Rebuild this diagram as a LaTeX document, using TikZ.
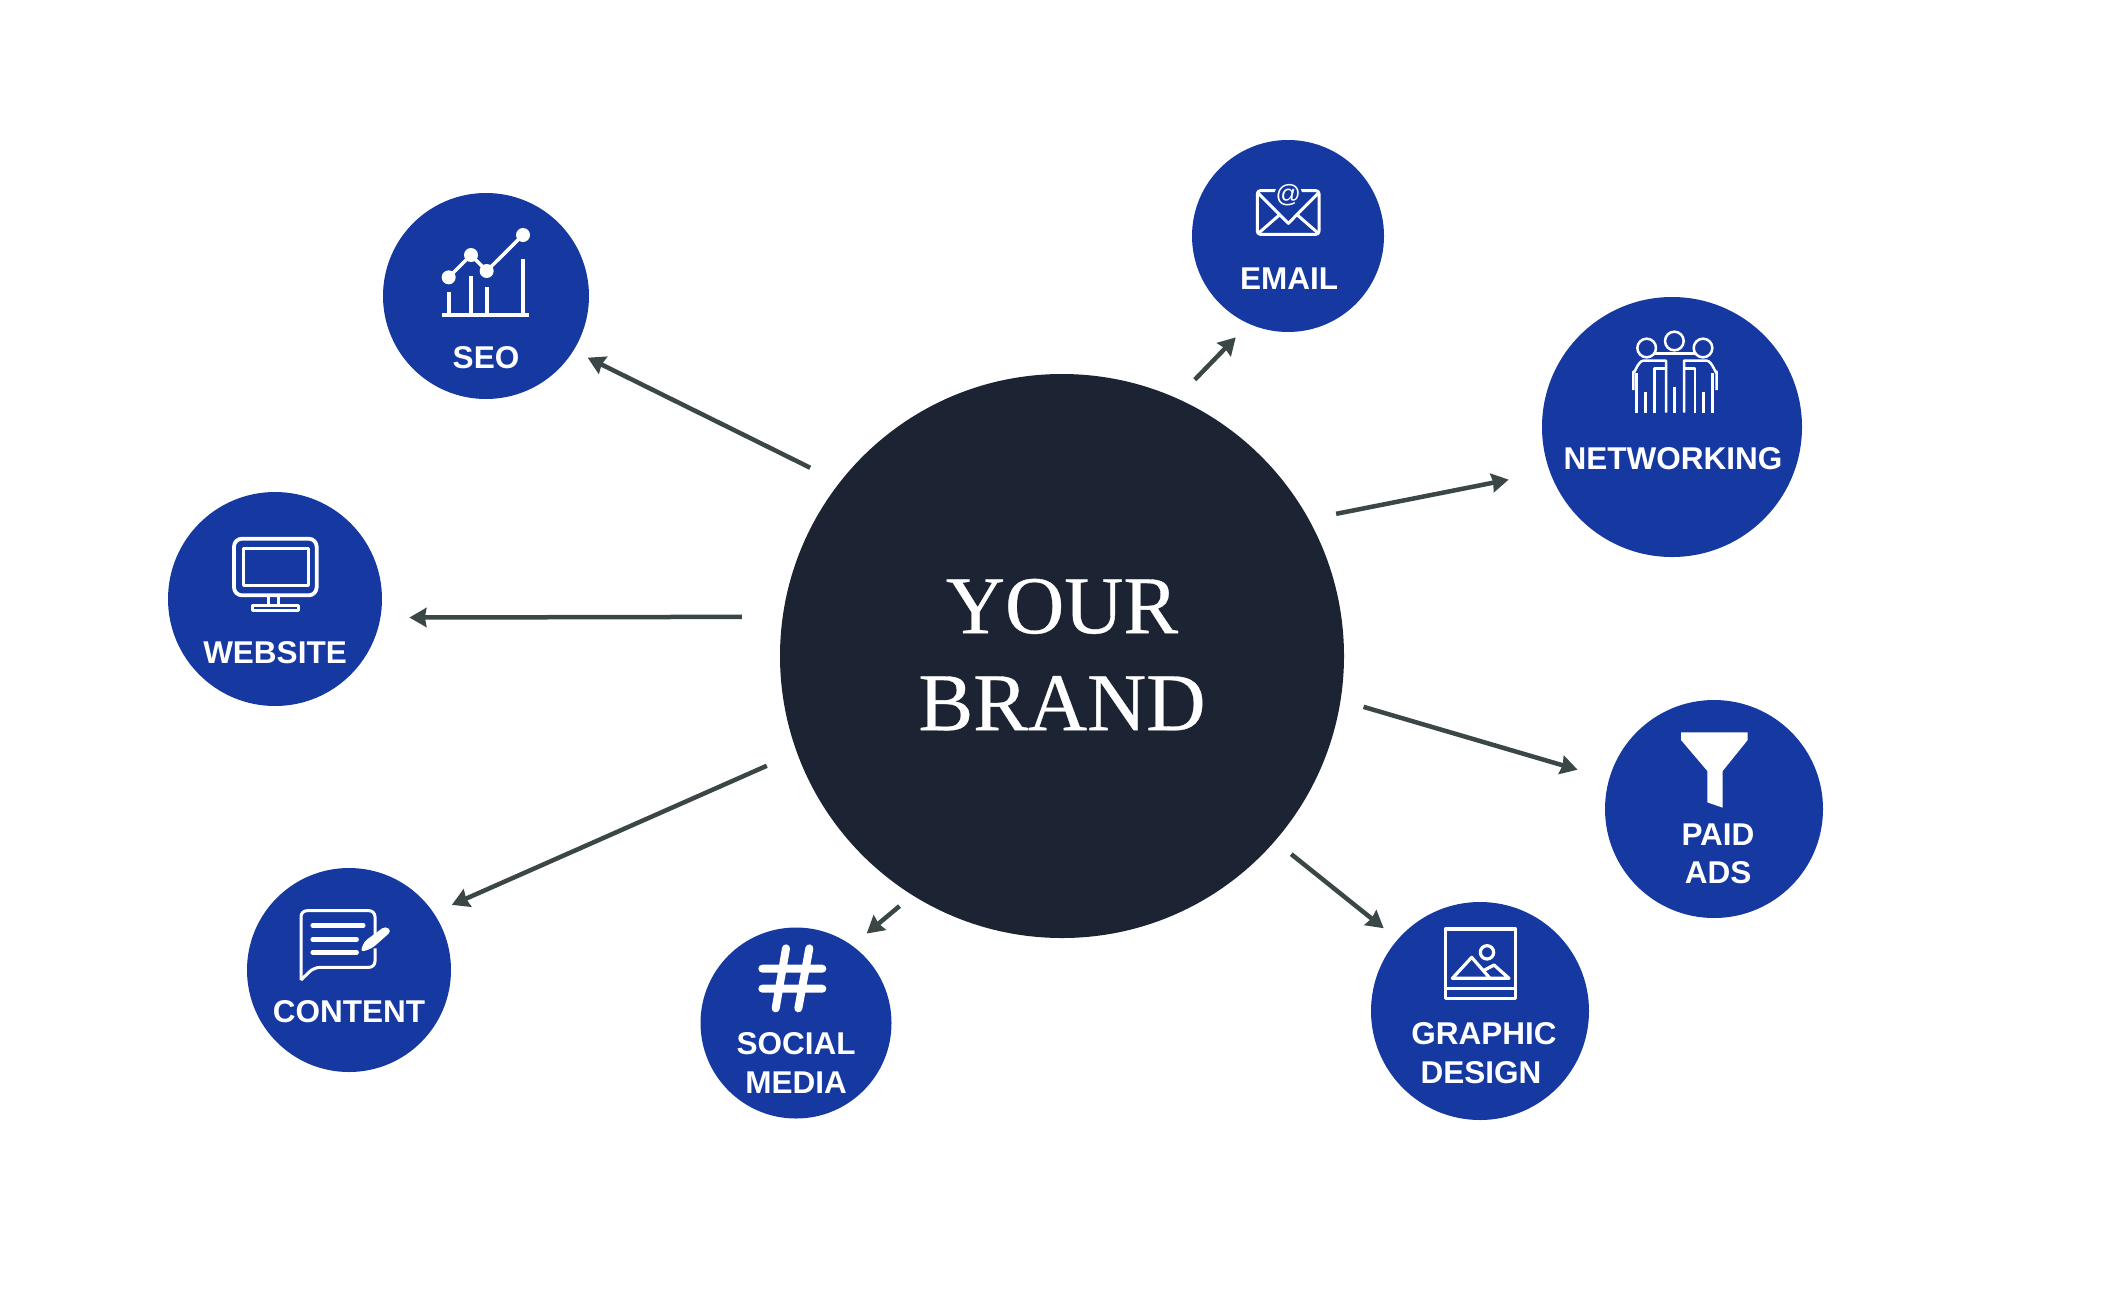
\documentclass[tikz,border=0pt]{standalone}
\usepackage{fontspec}
\setmainfont{Liberation Serif}[FakeBold=0.4]
\newfontfamily\lblfont{Liberation Sans}
\usetikzlibrary{arrows.meta}
\definecolor{blueC}{HTML}{1538A1}
\definecolor{hubC}{HTML}{1C2433}
\definecolor{arrowC}{HTML}{3B4646}
\tikzset{
  sat/.style={circle,fill=blueC,draw=none,inner sep=0pt,outer sep=0pt,minimum size=#1},
  hubnode/.style={circle,fill=hubC,draw=none,inner sep=0pt,outer sep=0pt,minimum size=564pt,
    text=white,align=center,font=\fontsize{82}{97}\selectfont},
  lbl/.style={text=white,inner sep=0pt,outer sep=0pt,font=\lblfont\bfseries\fontsize{31.5}{38}\selectfont},
  link/.style={draw=arrowC,line width=4.5pt,-{Stealth[length=17pt,width=19pt,inset=1.5pt]}},
  ico/.style={draw=white,line width=#1,line join=round},
  ico/.default=3pt,
  zoomed/.style={shift={#1},scale=1/3}
}
\begin{document}
\begin{tikzpicture}[x=1pt,y=-1pt]
\useasboundingbox (0,0) rectangle (2124,1312);
\fill[white] (0,0) rectangle (2124,1312);

\node[hubnode] (hub) at (1062,656) {\raisebox{3pt}{YOUR}\\\raisebox{3pt}{BRAND}};
\node[sat=206pt] (seo) at (486,296) {};
\node[sat=192pt] (email) at (1288,236) {};
\node[sat=260pt] (net) at (1672,427) {};
\node[sat=218pt] (paid) at (1714,809) {};
\node[sat=218pt] (graphic) at (1480,1011) {};
\node[sat=191pt] (social) at (796,1023) {};
\node[sat=204pt] (content) at (349,970) {};
\node[sat=214pt] (website) at (275,599) {};

\draw[link,shorten <=33pt,shorten >=16pt] (hub.142.4) -- (seo.-32.9);
\draw[link,shorten <=26pt,shorten >=19pt] (hub.66.5) -- (email.-114.3);
\draw[link,shorten <=28pt,shorten >=42pt] (hub.29.2) -- (net.-160.6);
\draw[link,shorten <=24pt,shorten >=33pt] (hub.-9.0) -- (paid.164.3);
\draw[link,shorten <=21pt,shorten >=18pt] (hub.-41.0) -- (graphic.139.5);
\draw[link,shorten <=17pt,shorten >=19pt] (hub.-122.5) -- (social.54.3);
\draw[link,shorten <=33pt,shorten >=20pt] (hub.200.0) -- (content.34);
\draw[link,shorten <=41pt,shorten >=29pt] (hub.172.2) -- (website.-10.3);

\node[lbl] (seoT) at (486,358) {SEO};
\node[lbl] (emailT) at (1289,279) {EMAIL};
\node[lbl] (netT) at (1673,459) {NETWORKING};
\node[lbl] (paidT) at (1718,835) {PAID};
\node[lbl] (adsT) at (1718,873) {ADS};
\node[lbl] (graphicT) at (1484,1034) {GRAPHIC};
\node[lbl] (designT) at (1481,1073) {DESIGN};
\node[lbl] (socialT) at (796,1044) {SOCIAL};
\node[lbl] (mediaT) at (796,1083) {MEDIA};
\node[lbl] (contentT) at (349,1012) {CONTENT};
\node[lbl] (websiteT) at (275,653) {WEBSITE};

% SEO icon
\begin{scope}[zoomed={(370,180)}]
  \draw[ico=4pt] (217,404) -- (478,404);
  \draw[ico=4pt] (237,404) -- (237,337) (302,404) -- (302,288) (352,404) -- (352,320) (459,404) -- (459,237);
  \draw[ico=3.5pt] (236,292) -- (303,225) -- (350,273) -- (459,165);
  \fill[white] (236,292) circle (21) (303,225) circle (21) (350,273) circle (21) (459,165) circle (21);
\end{scope}

% Email icon
\begin{scope}[zoomed={(1180,130)}]
  \draw[ico=3pt,rounded corners=3pt] (232,182) rectangle (417,313);
  \draw[ico=3pt] (232,187) -- (325,280) -- (417,187) (235,310) -- (298,255) (415,310) -- (352,255);
  \fill[blueC] (325,197) circle (42);
  \node[text=white,inner sep=0pt,font=\lblfont\fontsize{25}{30}\selectfont] (emailAt) at (325,196) {@};
\end{scope}

% Networking icon
\begin{scope}[zoomed={(1530,290)}]
  \draw[ico=2.5pt] (350,174) circle (28) (433,153) circle (28) (519,174) circle (28);
  \draw[ico=2.5pt] (375,190) -- (497,190);
  \draw[ico=2.5pt] (310,300) -- (310,245) to[out=-90,in=180] (340,212) -- (408,212) -- (408,368);
  \draw[ico=2.5pt] (320,250) -- (320,368) (347,305) -- (347,368) (373,368) -- (373,235) -- (408,235);
  \draw[ico=2.5pt] (560,300) -- (560,245) to[out=-90,in=0] (530,212) -- (462,212) -- (462,368);
  \draw[ico=2.5pt] (548,250) -- (548,368) (521,305) -- (521,368) (495,368) -- (495,235) -- (462,235);
  \draw[ico=2.5pt] (434,290) -- (434,368);
\end{scope}

% Funnel icon
\begin{scope}[zoomed={(1600,690)}]
  \fill[white] (243,127) -- (443,127) -- (443,150) -- (368,243) -- (368,353) -- (322,337) -- (322,243) -- (243,150) -- cycle;
\end{scope}

% Graphic icon
\begin{scope}[zoomed={(1370,900)}]
  \draw[ico=3.2pt] (226,87) rectangle (437,296) (226,265) -- (437,265);
  \draw[ico=3.2pt] (351,157) circle (20);
  \draw[ico=3.2pt] (360,235) -- (305,172) -- (247,235) -- (417,235) -- (372,195) -- (340,212);
\end{scope}

% Hash icon
\begin{scope}[zoomed={(700,920)}]
  \draw[ico=8pt,line cap=round] (187,146) -- (367,146) (187,206) -- (367,206) (258,85) -- (227,265) (328,85) -- (295,265);
\end{scope}

% Content icon
\begin{scope}[zoomed={(240,860)}]
  \draw[ico=3pt,rounded corners=6pt] (405,225) -- (405,152) -- (183,152) -- (183,360);
  \draw[ico=3pt,rounded corners=6pt] (183,360) -- (222,322) -- (405,322) -- (405,265);
  \draw[ico=4.5pt,line cap=round] (218,196) -- (370,196) (218,238) -- (350,238) (218,277) -- (350,277);
  \fill[white,rounded corners=4pt] (361,277) -- (372,245) -- (436,198) -- (455,213) -- (396,265) -- cycle;
\end{scope}

% Website icon
\begin{scope}[zoomed={(160,490)}]
  \draw[ico=3.8pt,rounded corners=8pt] (222,146) rectangle (470,316);
  \draw[ico=3pt] (250,175) rectangle (445,285);
  \draw[ico=3pt] (325,316) -- (325,345) (355,316) -- (355,345);
  \draw[ico=3pt] (277,345) rectangle (415,362);
\end{scope}
\end{tikzpicture}
\end{document}
